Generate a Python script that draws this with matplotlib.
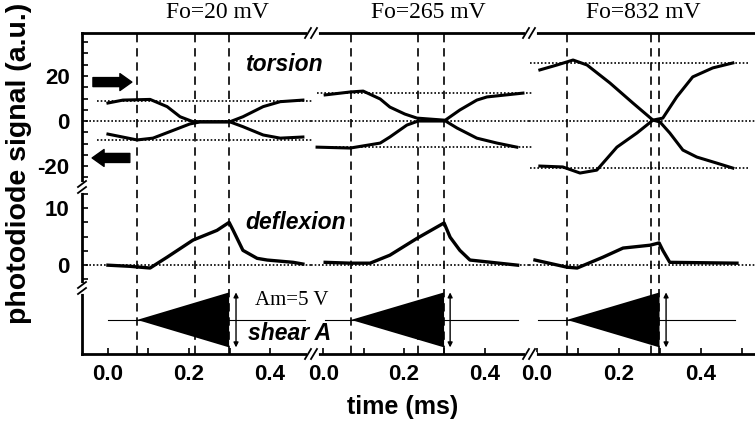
import matplotlib
matplotlib.use("Agg")
import matplotlib.pyplot as plt
from matplotlib.lines import Line2D

W, H = 755, 425

fo_labels = ["Fo=20 mV", "Fo=265 mV", "Fo=832 mV"]

# torsion: two traces per panel, time (ms) / signal (a.u.)
tors_a_t = [
    [0.0, 0.037, 0.104, 0.146, 0.178, 0.21, 0.30, 0.333, 0.383, 0.425, 0.481],
    [0.005, 0.067, 0.099, 0.141, 0.165, 0.202, 0.232, 0.299, 0.331, 0.38, 0.43, 0.479],
    [0.007, 0.049, 0.088, 0.122, 0.178, 0.234, 0.283, 0.30, 0.324, 0.356, 0.39, 0.439, 0.478],
]
tors_a_v = [
    [8.0, 9.3, 9.6, 6.4, 1.9, -0.3, -0.3, -2.5, -6.2, -7.6, -7.1],
    [11.6, 12.9, 13.3, 9.8, 6.2, 3.1, 1.3, 0.4, -3.1, -7.6, -9.8, -11.6],
    [22.7, 24.9, 27.1, 24.9, 16.9, 8.0, 0.4, -0.4, -5.3, -12.9, -16.0, -18.7, -20.9],
]
tors_b_t = [
    [0.0, 0.072, 0.111, 0.153, 0.202, 0.227, 0.30, 0.333, 0.383, 0.425, 0.481],
    [-0.015, 0.067, 0.141, 0.165, 0.207, 0.235, 0.299, 0.338, 0.38, 0.405, 0.494],
    [0.007, 0.063, 0.105, 0.146, 0.195, 0.244, 0.283, 0.307, 0.341, 0.38, 0.429, 0.478],
]
tors_b_v = [
    [-5.8, -8.4, -7.6, -4.7, -1.3, -0.4, -0.4, 1.9, 6.4, 8.6, 9.3],
    [-11.6, -12.0, -9.8, -7.1, -1.8, 0.0, 0.0, 4.9, 9.3, 10.7, 12.4],
    [-20.0, -20.4, -23.1, -21.8, -11.6, -5.3, 0.4, 1.3, 10.7, 19.6, 23.6, 25.8],
]
# dotted levels of the torsion traces (upper, lower) and their time span
tors_levels = [(9.0, -8.4), (12.4, -11.6), (25.8, -20.9)]
tors_level_span = [(-0.027, 0.504), (-0.015, 0.52), (-0.017, 0.52)]

# deflexion traces
defl_t = [
    [0.0, 0.054, 0.104, 0.146, 0.21, 0.269, 0.299, 0.309, 0.333, 0.368, 0.393, 0.457, 0.481],
    [0.005, 0.067, 0.116, 0.165, 0.232, 0.299, 0.314, 0.338, 0.363, 0.481],
    [-0.005, 0.073, 0.098, 0.161, 0.21, 0.276, 0.298, 0.307, 0.324, 0.488],
]
defl_v = [
    [0.0, -0.2, -0.5, 1.4, 4.4, 6.1, 7.5, 6.1, 2.6, 1.2, 0.9, 0.5, 0.2],
    [0.5, 0.35, 0.35, 1.75, 4.7, 7.4, 4.9, 2.6, 0.9, 0.0],
    [0.9, -0.35, -0.5, 1.4, 3.0, 3.5, 3.9, 2.6, 0.5, 0.35],
]

# vertical dashed markers (ms)
marker_t = [(0.072, 0.215, 0.299), (0.069, 0.235, 0.299), (0.073, 0.278, 0.298)]

# shear A ramp
shear_start = [0.072, 0.069, 0.073]
shear_end = [0.299, 0.299, 0.299]
shear_amp = 5.0
shear_line = [(0.0, 0.486), (0.005, 0.481), (0.002, 0.483)]
amp_arrow_t = [0.316, 0.314, 0.315]

x_major = [0.0, 0.2, 0.4]
x_minor = [[0.1, 0.3], [0.1, 0.3], [0.1, 0.3, 0.5]]

# layout in pixels
col_px = [(82, 311), (311, 529), (529, 755)]
row_px = [(33, 187), (187, 288), (288, 354)]
col_xlim = [(-0.064, 0.501), (-0.030, 0.509), (-0.0195, 0.532)]
row_ylim = [(-29.3, 39.1), (-4.0, 13.7), (-6.2, 5.8)]

plt.rcParams["font.family"] = "Liberation Sans"
plt.rcParams["axes.unicode_minus"] = False

SANS = "Liberation Sans"
SERIF = "Liberation Serif"
LW_SPINE = 2.0


def rect(x0, x1, y0, y1):
    return [x0 / W, 1 - y1 / H, (x1 - x0) / W, (y1 - y0) / H]


def fx(x):
    return x / W


def fy(y):
    return 1 - y / H


fig = plt.figure(figsize=(W / 100, H / 100), dpi=100)

axes = [[None] * 3 for _ in range(3)]
for c in range(3):
    for r in range(3):
        ax = fig.add_axes(rect(col_px[c][0], col_px[c][1], row_px[r][0], row_px[r][1]))
        ax.set_facecolor("none")
        ax.set_xlim(*col_xlim[c])
        ax.set_ylim(*row_ylim[r])
        for s in ax.spines.values():
            s.set_visible(False)
            s.set_linewidth(LW_SPINE)
        ax.tick_params(which="both", direction="in", length=4, width=1.2,
                       labelsize=16, left=False, bottom=False,
                       labelleft=False, labelbottom=False)
        if r == 0:
            ax.spines["top"].set_visible(True)
        if r == 2:
            ax.spines["bottom"].set_visible(True)
            ax.set_xticks(x_major)
            ax.set_xticklabels(["%.1f" % v for v in x_major], fontweight="bold")
            ax.set_xticks(x_minor[c], minor=True)
            ax.tick_params(which="both", bottom=True, labelbottom=True, pad=7)
        else:
            ax.set_xticks([])
        if c == 0 and r < 2:
            ax.spines["left"].set_visible(True)
            ax.tick_params(which="both", left=True, labelleft=True, pad=9)
        elif c == 0:
            ax.spines["left"].set_visible(True)
            ax.set_yticks([])
        else:
            ax.set_yticks([])
        axes[r][c] = ax

    # torsion
    ax = axes[0][c]
    dot = dict(color="k", lw=1.2, dashes=(1, 1.2))
    ax.axhline(0, **dot)
    for lev in tors_levels[c]:
        ax.plot(tors_level_span[c], [lev, lev], clip_on=False, **dot)
    ax.plot(tors_a_t[c], tors_a_v[c], color="k", lw=2.2, solid_joinstyle="round")
    ax.plot(tors_b_t[c], tors_b_v[c], color="k", lw=2.2, solid_joinstyle="round")

    # deflexion
    ax = axes[1][c]
    ax.axhline(0, **dot)
    ax.plot(defl_t[c], defl_v[c], color="k", lw=2.4, solid_joinstyle="round")

    # shear
    ax = axes[2][c]
    ax.plot(shear_line[c], [0, 0], color="k", lw=0.8)
    ax.fill([shear_start[c], shear_end[c], shear_end[c]],
            [0, shear_amp, -shear_amp], color="k", lw=0, clip_on=False)
    ax.annotate("", xy=(amp_arrow_t[c], shear_amp), xytext=(amp_arrow_t[c], -shear_amp),
                arrowprops=dict(arrowstyle="<|-|>", lw=1.0, color="k",
                                mutation_scale=7, shrinkA=0, shrinkB=0),
                annotation_clip=False)

    # full-height dashed markers
    ov = fig.add_axes(rect(col_px[c][0], col_px[c][1], row_px[0][0], row_px[2][1]))
    ov.set_xlim(*col_xlim[c])
    ov.set_ylim(0, 1)
    ov.axis("off")
    for t in marker_t[c]:
        ov.axvline(t, color="k", lw=1.2, dashes=(5, 3.5))

    # panel title
    axes[0][c].text(0.26 if c else 0.269, 1.13, fo_labels[c], family=SERIF, fontsize=17,
                    ha="center", va="center", transform=axes[0][c].get_xaxis_transform())

ax0 = axes[0][0]
ax0.set_yticks([-20, 0, 20])
ax0.set_yticks([-25, -15, -10, -5, 5, 10, 15, 25, 30, 35], minor=True)
ax0.set_yticklabels(["-20", "0", "20"], fontweight="bold")
ax1 = axes[1][0]
ax1.set_yticks([0, 10])
ax1.set_yticks([-2.5, 2.5, 5, 7.5, 12.5], minor=True)
ax1.set_yticklabels(["0", "10"], fontweight="bold")

# polarity arrows
arr = dict(arrowstyle="simple,head_length=0.86,head_width=1.22,tail_width=0.65",
           color="k", mutation_scale=10, shrinkA=0, shrinkB=0)
ax0.annotate("", xy=(0.059, 17.3), xytext=(-0.037, 17.3), arrowprops=arr,
             annotation_clip=False)
ax0.annotate("", xy=(-0.039, -16.4), xytext=(0.054, -16.4), arrowprops=arr,
             annotation_clip=False)

ax0.text(0.435, 24.9, "torsion", fontsize=16.5, fontweight="bold", style="italic",
         ha="center", va="center")
axes[1][0].text(0.462, 7.4, "deflexion", fontsize=16.5, fontweight="bold",
                style="italic", ha="center", va="center")
axes[2][0].text(0.454, 3.6, "Am=5 V", family=SERIF, fontsize=15,
                ha="center", va="center")
axes[2][0].text(0.449, -2.4, "shear A", fontsize=16.5, fontweight="bold",
                style="italic", ha="center", va="center")

fig.text(fx(403), fy(407), "time (ms)", fontsize=18, fontweight="bold",
         ha="center", va="center")
fig.text(fx(19), fy(163), "photodiode signal (a.u.)", fontsize=20.5, fontweight="bold",
         ha="center", va="center", rotation=90)


# axis break marks
def hbreak(xp, yp):
    fig.add_artist(Line2D([fx(xp - 2), fx(xp + 5)], [fy(yp), fy(yp)],
                          color="white", lw=3.5))
    for dx in (-3, 3):
        fig.add_artist(Line2D([fx(xp + dx - 3), fx(xp + dx + 3)],
                              [fy(yp + 5), fy(yp - 5)], color="k", lw=1.3))


def vbreak(xp, yp):
    fig.add_artist(Line2D([fx(xp), fx(xp)], [fy(yp - 3), fy(yp + 3)],
                          color="white", lw=3.5))
    for dy in (-3, 3):
        fig.add_artist(Line2D([fx(xp - 4), fx(xp + 4)],
                              [fy(yp + dy + 3), fy(yp + dy - 3)], color="k", lw=1.3))


for xb in (311, 529):
    hbreak(xb, 33)
    hbreak(xb, 354)
for yb in (187, 288):
    vbreak(82, yb)

fig.savefig("out.png", dpi=100)
